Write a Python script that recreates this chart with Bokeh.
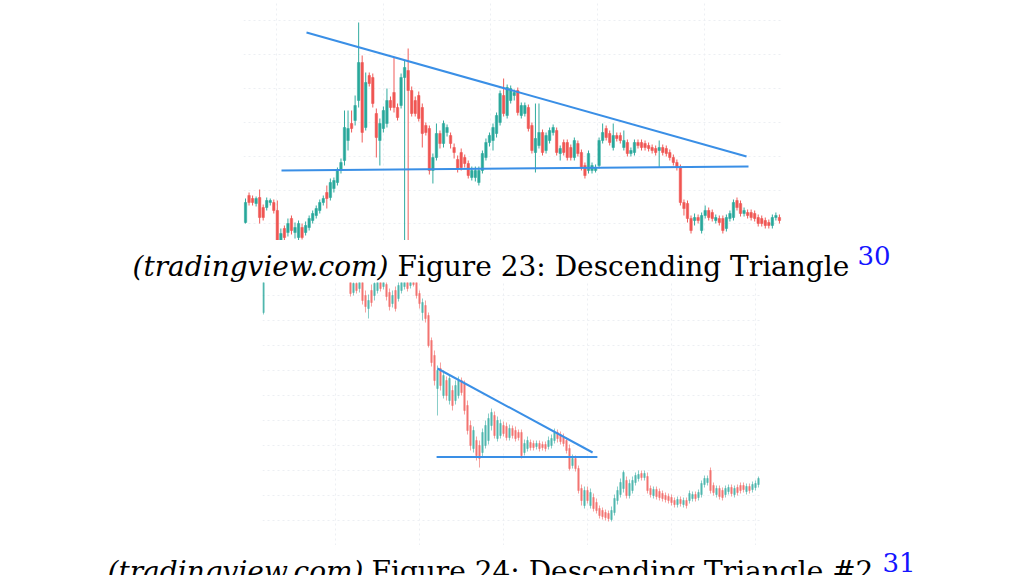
from bokeh.plotting import figure
from bokeh.layouts import column, row
from bokeh.models import Range1d, Grid, FixedTicker, ColumnDataSource, Spacer
from bokeh.core.properties import value
from bokeh.embed import file_html
from bokeh.resources import INLINE

# ---------------- Figure 23 : descending triangle (daily candles) ----------------
c1_open = [18, 45, 42, 37, 43, 33, 33, 38,
           38, 30, 0, 12, 8, 22, 8, 3, 13, 8,
           13, 20, 25, 30, 38, 48, 43, 52,
           58, 70, 80, 100, 117, 120, 140, 178, 113, 165,
           163, 127, 100, 112, 117, 140, 148, 133, 135, 163,
           170, 150, 140, 145, 133, 115, 112, 70, 83, 107,
           97, 108, 105, 93, 81, 88, 83, 77, 63, 63,
           58, 70, 83, 98, 100, 107, 118, 145, 125, 140,
           145, 150, 125, 127, 133, 115, 88, 95, 108, 90,
           100, 108, 110, 87, 98, 98, 93, 83, 97, 88,
           75, 70, 70, 70, 75, 100, 112, 107, 93, 105,
           105, 93, 98, 87, 88, 98, 98, 97, 95, 93,
           92, 90, 93, 92, 88, 83, 78, 73, 38, 37,
           22, 20, 23, 10, 25, 30, 28, 20, 22, 22,
           12, 22, 23, 40, 37, 27, 28, 28, 27, 23,
           22, 20, 18, 15, 23, 23]
c1_high = [42, 48, 45, 44, 51, 36, 43, 42,
           41, 40, 12, 15, 22, 25, 18, 20, 17, 19,
           25, 30, 35, 41, 45, 55, 62, 63,
           73, 82, 130, 130, 130, 145, 218, 185, 168, 168,
           167, 132, 122, 134, 152, 144, 183, 137, 167, 180,
           192, 154, 144, 149, 137, 118, 115, 87, 117, 110,
           120, 116, 108, 97, 85, 92, 86, 80, 74, 74,
           74, 90, 102, 108, 117, 128, 150, 162, 156, 155,
           151, 153, 138, 138, 136, 118, 137, 137, 111, 108,
           113, 116, 113, 95, 101, 101, 96, 103, 100, 91,
           78, 90, 78, 76, 103, 117, 115, 110, 117, 108,
           108, 110, 101, 93, 101, 101, 101, 100, 98, 96,
           95, 100, 96, 95, 91, 86, 81, 76, 41, 40,
           25, 27, 26, 28, 35, 33, 31, 26, 25, 25,
           26, 30, 41, 43, 40, 33, 31, 31, 30, 26,
           25, 23, 21, 26, 28, 26]
c1_low = [17, 35, 35, 34, 17, 20, 30, 35,
          27, -2, -2, 0, 4, 6, 2, 0, 1, 5,
          10, 17, 22, 27, 35, 32, 40, 48,
          55, 67, 75, 90, 108, 115, 133, 98, 110, 154,
          133, 83, 75, 108, 113, 130, 128, 120, 132, -10,
          -10, 124, 124, 119, 93, 105, 66, 57, 80, 92,
          93, 104, 92, 82, 68, 70, 73, 62, 60, 59,
          55, 67, 80, 94, 90, 103, 115, 124, 122, 137,
          140, 125, 122, 124, 109, 87, 68, 92, 85, 87,
          97, 105, 85, 80, 85, 80, 80, 80, 84, 70,
          62, 67, 67, 68, 72, 97, 100, 95, 90, 99,
          97, 90, 84, 84, 85, 92, 90, 90, 89, 87,
          85, 73, 85, 84, 80, 75, 70, 35, 25, 18,
          7, 15, 17, 7, 22, 20, 19, 17, 15, 7,
          9, 19, 20, 30, 24, 24, 22, 20, 19, 14,
          14, 12, 12, 12, 20, 17]
c1_close = [38, 38, 38, 42, 23, 23, 40, 40,
            30, 0, 7, 3, 17, 10, 13, 17, 3, 15,
            22, 27, 32, 38, 42, 42, 58, 60,
            70, 78, 113, 112, 112, 135, 178, 108, 158, 157,
            137, 103, 117, 130, 140, 133, 133, 123, 163, 173,
            150, 127, 127, 122, 107, 108, 70, 83, 107, 97,
            117, 113, 97, 88, 72, 73, 77, 65, 70, 70,
            70, 87, 98, 105, 113, 125, 147, 127, 153, 152,
            148, 128, 135, 135, 112, 90, 102, 108, 88, 105,
            110, 113, 88, 92, 88, 83, 83, 100, 87, 73,
            65, 87, 75, 73, 100, 108, 103, 98, 105, 102,
            100, 100, 87, 90, 98, 95, 93, 93, 92, 90,
            88, 93, 88, 87, 83, 78, 73, 38, 32, 22,
            10, 23, 20, 25, 30, 23, 22, 23, 18, 10,
            23, 27, 38, 33, 27, 30, 25, 23, 22, 17,
            17, 15, 15, 23, 25, 20]
c1_day = list(range(len(c1_open)))

c1_resist_x = [17.25, 141.7]
c1_resist_y = [208, 84]
c1_support_x = [10.18, 142.25]
c1_support_y = [70, 74]
c1_grid_x = [8.77, 39.0, 69.3, 99.5, 129.8]
c1_grid_y = [17, 50, 84, 118, 152, 186, 220]

# ---------------- Figure 24 : descending triangle #2 ----------------
c2_day = [0] + list(range(29, 166))
c2_open = [233,
           267, 253, 262, 257, 263, 250, 237, 255, 250, 255,
           263, 259, 261, 253, 242, 255, 247, 255, 259, 265,
           260, 265, 263, 252, 233, 240, 230, 205, 190, 157,
           177, 150, 165, 145, 155, 145, 150, 165, 162, 140,
           120, 97, 105, 100, 93, 100, 105, 120, 130, 107,
           110, 120, 119, 108, 117, 115, 113, 113, 93, 97,
           103, 102, 99, 102, 101, 101, 99, 100, 105, 113,
           111, 108, 105, 97, 80, 87, 77, 57, 40, 55,
           40, 48, 43, 37, 35, 33, 32, 26, 33, 45,
           51, 57, 65, 50, 55, 63, 67, 72, 68, 69,
           57, 50, 56, 54, 52, 50, 49, 48, 45, 41,
           46, 41, 45, 45, 47, 51, 48, 51, 61, 63,
           75, 60, 51, 57, 55, 51, 54, 58, 51, 58,
           60, 60, 54, 59, 56, 58, 61]
c2_high = [275,
           275, 267, 266, 270, 267, 255, 251, 261, 267, 270,
           267, 271, 265, 257, 255, 259, 265, 270, 269, 270,
           270, 269, 266, 255, 247, 245, 233, 208, 195, 180,
           183, 175, 169, 171, 160, 165, 169, 168, 165, 145,
           125, 119, 109, 105, 117, 125, 132, 137, 134, 129,
           126, 124, 123, 121, 120, 119, 116, 116, 106, 109,
           106, 105, 105, 105, 104, 104, 109, 111, 117, 116,
           114, 112, 108, 101, 91, 90, 80, 61, 59, 59,
           57, 52, 47, 40, 38, 36, 35, 39, 51, 59,
           67, 75, 69, 66, 69, 73, 75, 75, 75, 73,
           60, 59, 59, 57, 55, 53, 52, 51, 48, 49,
           49, 48, 48, 55, 54, 54, 56, 65, 70, 70,
           78, 63, 60, 60, 58, 60, 61, 61, 60, 61,
           63, 63, 62, 62, 64, 65, 69]
c2_low = [231,
          249, 250, 252, 253, 241, 233, 227, 239, 245, 252,
          254, 256, 245, 235, 238, 234, 244, 252, 256, 254,
          257, 259, 247, 237, 225, 223, 198, 179, 160, 130,
          155, 147, 145, 141, 135, 141, 147, 150, 131, 111,
          95, 93, 85, 78, 89, 97, 101, 115, 107, 104,
          107, 109, 105, 105, 107, 104, 105, 87, 90, 94,
          95, 95, 96, 94, 95, 94, 96, 97, 102, 103,
          101, 99, 92, 75, 77, 74, 52, 40, 37, 42,
          37, 34, 32, 27, 26, 25, 24, 24, 30, 41,
          48, 53, 47, 47, 52, 60, 64, 65, 65, 52,
          48, 47, 46, 45, 44, 43, 42, 40, 38, 38,
          39, 38, 37, 42, 44, 44, 45, 48, 58, 60,
          52, 50, 48, 46, 45, 48, 51, 49, 48, 50,
          52, 53, 51, 52, 53, 55, 58]
c2_close = [263,
            252, 262, 255, 265, 245, 239, 245, 243, 262, 265,
            257, 267, 249, 239, 250, 237, 260, 265, 265, 257,
            266, 261, 250, 242, 243, 227, 200, 183, 165, 175,
            160, 170, 150, 167, 140, 160, 165, 153, 135, 115,
            100, 115, 90, 87, 113, 120, 127, 133, 110, 125,
            122, 112, 108, 117, 110, 107, 108, 90, 102, 105,
            98, 98, 102, 97, 98, 97, 105, 107, 113, 107,
            104, 102, 95, 77, 87, 77, 55, 45, 55, 45,
            53, 37, 35, 30, 29, 28, 27, 35, 47, 55,
            63, 73, 50, 62, 65, 70, 71, 68, 72, 55,
            51, 56, 49, 48, 47, 46, 45, 43, 41, 46,
            42, 45, 40, 52, 51, 47, 53, 62, 67, 67,
            55, 53, 57, 49, 48, 57, 58, 52, 57, 53,
            55, 56, 59, 55, 61, 62, 67]

c2_resist_x = [58.0, 109.7]
c2_resist_y = [177, 93]
c2_support_x = [57.7, 111.3]
c2_support_y = [88.5, 88.5]
c2_grid_x = [24, 52, 80, 108, 136, 164]
c2_grid_y = [25, 50, 75, 100, 125, 150, 175, 200, 225, 250]

caption1 = ["(tradingview.com)", "Figure 23: Descending Triangle", "30"]
caption2 = ["(tradingview.com)", "Figure 24: Descending Triangle #2", "31"]

UP = "#26a69a"
DOWN = "#ef5350"
TREND = "#3a8fe6"
GRID = "#eceff3"


def bare_fig(width, height, xr, yr):
    p = figure(width=width, height=height, x_range=Range1d(*xr), y_range=Range1d(*yr),
               output_backend="svg", toolbar_location=None,
               x_axis_location=None, y_axis_location=None,
               min_border=0, outline_line_color=None)
    p.center = [r for r in p.center if not isinstance(r, Grid)]
    return p


def candle_fig(days, o, h, l, c, xr, yr, width, height, body_w, alpha,
               gx, gy, rx, ry, sx, sy):
    p = bare_fig(width, height, xr, yr)
    p.add_layout(Grid(dimension=0, ticker=FixedTicker(ticks=gx),
                      grid_line_color=GRID, grid_line_dash="2 3"))
    p.add_layout(Grid(dimension=1, ticker=FixedTicker(ticks=gy),
                      grid_line_color=GRID, grid_line_dash="2 3"))
    colors = [UP if ci >= oi else DOWN for oi, ci in zip(o, c)]
    src = ColumnDataSource(dict(
        x=days, high=h, low=l,
        top=[max(a, b) for a, b in zip(o, c)],
        bottom=[min(a, b) for a, b in zip(o, c)],
        color=colors))
    p.segment(x0="x", y0="high", x1="x", y1="low", line_color="color",
              line_alpha=alpha, line_width=1, source=src)
    p.vbar(x="x", width=body_w, top="top", bottom="bottom", fill_color="color",
           line_color="color", fill_alpha=alpha, line_alpha=alpha, line_width=0.5,
           source=src)
    p.line(rx, ry, line_color=TREND, line_width=2)
    p.line(sx, sy, line_color=TREND, line_width=2)
    return p


def caption_fig(height, parts, base, sup_base, x_it, x_norm, x_sup):
    p = bare_fig(1011, height, (0, 1011), (height, 0))
    font = value("DejaVu Serif")
    p.text(x=[x_it], y=[base], text=[parts[0]], text_font=font,
           text_font_style="italic", text_font_size="28px", text_align="right",
           text_baseline="alphabetic", text_color="#000000")
    p.text(x=[x_norm], y=[base], text=[parts[1]], text_font=font,
           text_font_size="28px", text_align="left",
           text_baseline="alphabetic", text_color="#000000")
    p.text(x=[x_sup], y=[sup_base], text=[parts[2]], text_font=font,
           text_font_size="26px", text_align="left",
           text_baseline="alphabetic", text_color="#1414ff")
    return p


p1 = candle_fig(c1_day, c1_open, c1_high, c1_low, c1_close,
                (-0.566, 151.87), (0, 240), 539, 240, 0.7, 0.95,
                c1_grid_x, c1_grid_y, c1_resist_x, c1_resist_y,
                c1_support_x, c1_support_y)
cap1 = caption_fig(42, caption1, 26, 15, 388, 397, 857)
p2 = candle_fig(c2_day, c2_open, c2_high, c2_low, c2_close,
                (-0.33, 165.67), (0, 263), 498, 263, 0.6, 0.55,
                c2_grid_x, c2_grid_y, c2_resist_x, c2_resist_y,
                c2_support_x, c2_support_y)
cap2 = caption_fig(50, caption2, 26, 17, 363, 371, 882)

layout = column(row(Spacer(width=243, height=240), p1, spacing=0),
                cap1,
                row(Spacer(width=262, height=263), p2, spacing=0),
                cap2, spacing=0)
open("out.html", "w").write(file_html(layout, INLINE))
